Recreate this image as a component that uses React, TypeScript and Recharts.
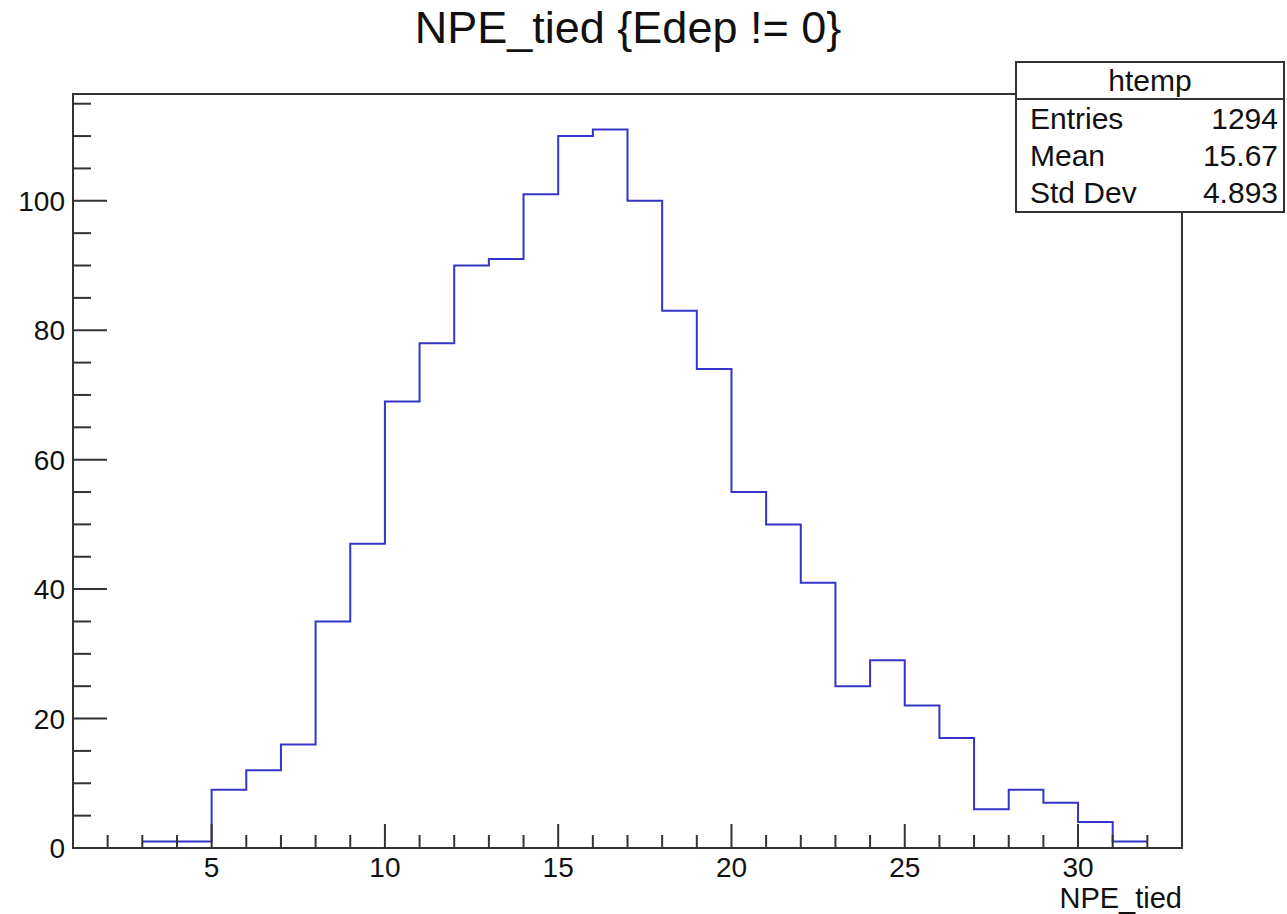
import React from 'react';
import { ComposedChart, Line, XAxis, YAxis, ReferenceArea } from 'recharts';

// histogram of NPE_tied, unit bins starting at 3
const binStart = 3;
const counts = [1, 1, 9, 12, 16, 35, 47, 69, 78, 90, 91, 101, 110, 111, 100, 83, 74, 55, 50, 41, 25, 29, 22, 17, 6, 9, 7, 4, 1];

const xTicks = [2, 3, 4, 5, 6, 7, 8, 9, 10, 11, 12, 13, 14, 15, 16, 17, 18, 19, 20, 21, 22, 23, 24, 25, 26, 27, 28, 29, 30, 31, 32];
const yTicks = [0, 5, 10, 15, 20, 25, 30, 35, 40, 45, 50, 55, 60, 65, 70, 75, 80, 85, 90, 95, 100, 105, 110, 115];

const statsTitle = 'htemp';
const statsRows = [
    ['Entries', '1294'],
    ['Mean', '15.67'],
    ['Std Dev', '4.893'],
];

const FONT = '"Liberation Sans", Arial, Helvetica, sans-serif';
const AXIS = '#333';

// step line needs one extra point at the right edge of the last bin
const data = counts.map((c, i) => ({ x: binStart + i, count: c }));
data.push({ x: binStart + counts.length, count: counts[counts.length - 1] });

const XTick = (props: any) => {
    const { x, y, payload } = props;
    const major = payload.value % 5 === 0;
    return (
        <g>
            <line x1={x} x2={x} y1={y} y2={y - (major ? 24 : 13)} stroke={AXIS} strokeWidth={2} />
            {major && (
                <text x={x} y={y + 29} textAnchor="middle" fontSize={28} fontFamily={FONT} fill="#111">
                    {payload.value}
                </text>
            )}
        </g>
    );
};

const YTick = (props: any) => {
    const { x, y, payload } = props;
    const major = payload.value % 20 === 0;
    return (
        <g>
            <line x1={x} x2={x + (major ? 34 : 18)} y1={y} y2={y} stroke={AXIS} strokeWidth={2} />
            {major && (
                <text x={x - 8} y={y + 10} textAnchor="end" fontSize={28} fontFamily={FONT} fill="#111">
                    {payload.value}
                </text>
            )}
        </g>
    );
};

const App: React.FC = () => {
    return (
        <div style={{ position: 'absolute', left: 0, top: 0, width: 1287, height: 914, background: '#fff', fontFamily: FONT }}>
            <div style={{ position: 'absolute', left: 0, width: 1256, top: 5, textAlign: 'center', fontSize: 45, lineHeight: '45px', color: '#111' }}>
                NPE_tied {'{'}Edep != 0{'}'}
            </div>
            <ComposedChart
                width={1287}
                height={914}
                data={data}
                margin={{ top: 94, right: 105, bottom: 0, left: 0 }}
            >
                <XAxis
                    dataKey="x"
                    type="number"
                    domain={[1, 33]}
                    ticks={xTicks}
                    interval={0}
                    allowDataOverflow
                    tickLine={false}
                    tickSize={0}
                    tickMargin={0}
                    axisLine={{ stroke: AXIS, strokeWidth: 2 }}
                    tick={<XTick />}
                    height={66}
                />
                <YAxis
                    type="number"
                    domain={[0, 116.5]}
                    ticks={yTicks}
                    interval={0}
                    allowDataOverflow
                    tickLine={false}
                    tickSize={0}
                    tickMargin={0}
                    axisLine={{ stroke: AXIS, strokeWidth: 2 }}
                    tick={<YTick />}
                    width={73}
                />
                <ReferenceArea x1={1} x2={33} y1={0} y2={116.5} fill="none" stroke={AXIS} strokeWidth={2} />
                <Line
                    type="stepAfter"
                    dataKey="count"
                    stroke="#3434c8"
                    strokeWidth={2}
                    dot={false}
                    isAnimationActive={false}
                />
            </ComposedChart>
            <div style={{ position: 'absolute', right: 105, top: 887, fontSize: 29, lineHeight: '22px', color: '#111' }}>
                NPE_tied
            </div>
            <div
                style={{
                    position: 'absolute',
                    left: 1015,
                    top: 61,
                    width: 266,
                    height: 148,
                    border: `2px solid ${AXIS}`,
                    background: '#fff',
                    color: '#111',
                    fontSize: 30,
                }}
            >
                <div style={{ height: 35, lineHeight: '35px', textAlign: 'center', borderBottom: `2px solid ${AXIS}` }}>
                    {statsTitle}
                </div>
                {statsRows.map(([k, v]) => (
                    <div key={k} style={{ display: 'flex', justifyContent: 'space-between', height: 37, lineHeight: '37px', padding: '0 5px 0 13px' }}>
                        <span>{k}</span>
                        <span>{v}</span>
                    </div>
                ))}
            </div>
        </div>
    );
};

export default App;
